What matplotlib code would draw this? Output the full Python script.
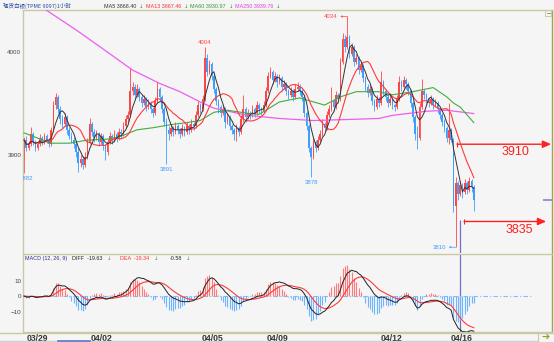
import numpy as np
import pandas as pd
import matplotlib
matplotlib.use("Agg")
import matplotlib.pyplot as plt
from matplotlib.patches import Rectangle
from matplotlib.lines import Line2D

plt.rcParams['font.family'] = ['Liberation Sans', 'Noto Sans CJK SC', 'DejaVu Sans']

# 现货白银 1小时K线 (开 / 高 / 低 / 收)
opens = [
    3896, 3914, 3906, 3910, 3920, 3912, 3906, 3910, 3916, 3912,
    3918, 3914, 3910, 3924, 3948, 3956, 3944, 3934, 3930, 3936,
    3924, 3918, 3914, 3910, 3902, 3892, 3896, 3890, 3898, 3912,
    3930, 3922, 3916, 3920, 3912, 3918, 3908, 3902, 3912, 3918,
    3914, 3920, 3916, 3922, 3920, 3928, 3934, 3938, 3962, 3966,
    3958, 3964, 3956, 3950, 3954, 3946, 3950, 3944, 3940, 3952,
    3964, 3956, 3944, 3932, 3924, 3920, 3926, 3922, 3928, 3924,
    3920, 3926, 3922, 3928, 3924, 3930, 3928, 3938, 3948, 3944,
    3954, 3994, 3980, 3988, 3976, 3964, 3952, 3946, 3940, 3944,
    3932, 3936, 3928, 3924, 3920, 3926, 3922, 3934, 3944, 3936,
    3940, 3938, 3944, 3940, 3948, 3944, 3942, 3948, 3962, 3976,
    3980, 3972, 3976, 3970, 3974, 3966, 3968, 3962, 3958, 3962,
    3956, 3964, 3966, 3962, 3956, 3940, 3928, 3906, 3898, 3912,
    3906, 3914, 3920, 3930, 3926, 3938, 3944, 3952, 3946, 3958,
    3954, 3990, 4012, 4004, 4014, 3998, 4004, 3990, 3994, 3982,
    3986, 3974, 3966, 3960, 3964, 3952, 3946, 3954, 3950, 3970,
    3962, 3956, 3950, 3954, 3948, 3946, 3954, 3970, 3966, 3972,
    3968, 3962, 3950, 3936, 3920, 3916, 3946, 3962, 3958, 3954,
    3950, 3954, 3948, 3950, 3944, 3938, 3932, 3926, 3916, 3924,
    3914, 3850, 3872, 3862, 3870, 3864, 3872, 3866, 3874, 3868,
]
highs = [
    3917, 3918, 3913, 3927, 3922, 3914, 3913, 3920, 3918, 3921,
    3920, 3916, 3927, 3952, 3960, 3958, 3947, 3938, 3940, 3938,
    3927, 3922, 3917, 3913, 3906, 3900, 3899, 3902, 3916, 3935,
    3932, 3925, 3924, 3922, 3921, 3920, 3910, 3915, 3922, 3920,
    3924, 3922, 3926, 3925, 3932, 3938, 3942, 3984, 3970, 3968,
    3968, 3966, 3958, 3958, 3956, 3954, 3952, 3946, 3956, 3970,
    3966, 3958, 3946, 3935, 3928, 3930, 3928, 3932, 3930, 3926,
    3930, 3928, 3932, 3930, 3934, 3932, 3942, 3952, 3950, 3958,
    4004, 3998, 3992, 3990, 3978, 3966, 3954, 3948, 3948, 3946,
    3940, 3938, 3930, 3926, 3930, 3928, 3938, 3958, 3946, 3944,
    3942, 3948, 3946, 3952, 3950, 3946, 3952, 3966, 3980, 3985,
    3982, 3980, 3978, 3978, 3976, 3972, 3970, 3964, 3966, 3964,
    3968, 3970, 3968, 3964, 3958, 3942, 3930, 3908, 3916, 3914,
    3918, 3924, 3934, 3932, 3942, 3948, 3966, 3954, 3962, 3960,
    3994, 4018, 4016, 4034, 4016, 4008, 4006, 3998, 3996, 3990,
    3988, 3976, 3968, 3968, 3966, 3954, 3958, 3956, 3981, 3972,
    3964, 3958, 3958, 3956, 3950, 3958, 3976, 3972, 3976, 3974,
    3970, 3964, 3952, 3938, 3928, 3950, 3973, 3964, 3960, 3956,
    3958, 3956, 3954, 3952, 3946, 3940, 3934, 3928, 3950, 3926,
    3916, 3878, 3874, 3874, 3872, 3876, 3874, 3878, 3876, 3870,
]
lows = [
    3882, 3903, 3904, 3908, 3909, 3903, 3904, 3908, 3909, 3910,
    3911, 3907, 3908, 3922, 3944, 3940, 3930, 3926, 3928, 3920,
    3915, 3911, 3906, 3898, 3883, 3888, 3886, 3888, 3896, 3910,
    3918, 3912, 3914, 3908, 3910, 3904, 3895, 3900, 3910, 3910,
    3912, 3912, 3914, 3916, 3918, 3926, 3932, 3936, 3958, 3954,
    3956, 3952, 3946, 3948, 3942, 3944, 3940, 3936, 3938, 3950,
    3952, 3940, 3928, 3891, 3914, 3918, 3918, 3920, 3920, 3916,
    3918, 3918, 3920, 3920, 3922, 3924, 3926, 3936, 3940, 3942,
    3952, 3976, 3978, 3972, 3960, 3948, 3940, 3936, 3938, 3926,
    3930, 3924, 3920, 3914, 3913, 3918, 3920, 3932, 3932, 3934,
    3934, 3936, 3936, 3938, 3940, 3938, 3940, 3946, 3960, 3974,
    3968, 3970, 3966, 3968, 3962, 3964, 3958, 3954, 3956, 3952,
    3954, 3962, 3958, 3952, 3936, 3924, 3902, 3878, 3896, 3902,
    3904, 3912, 3918, 3922, 3924, 3936, 3942, 3942, 3944, 3950,
    3952, 3988, 4000, 4002, 3994, 3996, 3986, 3988, 3978, 3980,
    3970, 3962, 3956, 3958, 3948, 3942, 3944, 3946, 3948, 3958,
    3952, 3946, 3948, 3944, 3942, 3944, 3952, 3962, 3964, 3964,
    3958, 3946, 3932, 3914, 3905, 3914, 3944, 3954, 3950, 3946,
    3948, 3944, 3946, 3940, 3934, 3928, 3922, 3912, 3910, 3912,
    3844, 3810, 3856, 3860, 3858, 3862, 3862, 3864, 3864, 3845,
]
closes = [
    3914, 3906, 3910, 3920, 3912, 3906, 3910, 3916, 3912, 3918,
    3914, 3910, 3924, 3948, 3956, 3944, 3934, 3930, 3936, 3924,
    3918, 3914, 3910, 3902, 3892, 3896, 3890, 3898, 3912, 3930,
    3922, 3916, 3920, 3912, 3918, 3908, 3902, 3912, 3918, 3914,
    3920, 3916, 3922, 3920, 3928, 3934, 3938, 3962, 3966, 3958,
    3964, 3956, 3950, 3954, 3946, 3950, 3944, 3940, 3952, 3964,
    3956, 3944, 3932, 3924, 3920, 3926, 3922, 3928, 3924, 3920,
    3926, 3922, 3928, 3924, 3930, 3928, 3938, 3948, 3944, 3954,
    3994, 3980, 3988, 3976, 3964, 3952, 3946, 3940, 3944, 3932,
    3936, 3928, 3924, 3920, 3926, 3922, 3934, 3944, 3936, 3940,
    3938, 3944, 3940, 3948, 3944, 3942, 3948, 3962, 3976, 3980,
    3972, 3976, 3970, 3974, 3966, 3968, 3962, 3958, 3962, 3956,
    3964, 3966, 3962, 3956, 3940, 3928, 3906, 3898, 3912, 3906,
    3914, 3920, 3930, 3926, 3938, 3944, 3952, 3946, 3958, 3954,
    3990, 4012, 4004, 4014, 3998, 4004, 3990, 3994, 3982, 3986,
    3974, 3966, 3960, 3964, 3952, 3946, 3954, 3950, 3970, 3962,
    3956, 3950, 3954, 3948, 3946, 3954, 3970, 3966, 3972, 3968,
    3962, 3950, 3936, 3920, 3916, 3946, 3962, 3958, 3954, 3950,
    3954, 3948, 3950, 3944, 3938, 3932, 3926, 3916, 3924, 3914,
    3850, 3872, 3862, 3870, 3864, 3872, 3866, 3874, 3868, 3856,
]

# MA60 / MA250 depend on bars before this window, so they are kept as sampled points
ma60_idx = [0, 12, 20, 28, 37, 42, 50, 57, 65, 72, 78, 84, 90, 99, 104,
            113, 122, 125, 133, 140, 147, 157, 163, 172, 181, 187, 190, 193, 199]
ma60_val = [3921, 3911, 3911, 3914, 3915, 3917, 3924, 3926, 3929, 3931, 3933, 3941,
            3943, 3940, 3939, 3951, 3955, 3953, 3948, 3956, 3961, 3961, 3958, 3961,
            3965, 3956, 3950, 3946, 3930.97]
ma250_idx = [0, 10, 23, 34, 48, 60, 69, 78, 84, 99, 113, 128, 143, 157, 163, 178, 187, 199]
ma250_val = [4055, 4040, 4021, 4004, 3982, 3969, 3961, 3951, 3945, 3938, 3935, 3933,
             3934, 3935, 3938, 3942, 3943, 3939.76]

date_pos = [5.75, 34.5, 83.2, 112, 162.8, 193.8]
date_labels = ['03/29', '04/02', '04/05', '04/09', '04/12', '04/16']

# marked extremes: (bar index, price, side)
marks = [(0, 3882, 'low'), (80, 4004, 'high'), (63, 3891, 'low'), (127, 3878, 'low')]
target_up = 3910
target_down = 3835
cursor_bar = 193

RED = '#ff4545'
BLUE = '#3d9dff'
KHAKI = '#c9c9a3'
OLIVE = '#a3a34a'
BG = '#f5f5f5'
W, H = 554, 342


def fx(x):
    return x / W


def fy(y):
    return 1 - y / H


o = np.array(opens, float)
h = np.array(highs, float)
l = np.array(lows, float)
c = np.array(closes, float)
idx = np.arange(len(c))

cs = pd.Series(c)
ma5 = cs.rolling(5, min_periods=1).mean()
ma13 = cs.rolling(13, min_periods=1).mean()
ema12 = cs.ewm(span=12, adjust=False).mean()
ema26 = cs.ewm(span=26, adjust=False).mean()
diff = ema12 - ema26
dea = diff.ewm(span=9, adjust=False).mean()
hist = 2 * (diff - dea)

fig = plt.figure(figsize=(W / 100, H / 100), dpi=100, facecolor=BG)
ax = fig.add_axes([fx(23), fy(253), fx(552) - fx(23), fy(10) - fy(253)])
ax2 = fig.add_axes([fx(23), fy(332), fx(552) - fx(23), fy(254) - fy(332)])

xmin, xmax = -0.45, 233.6
ax.set_xlim(xmin, xmax)
ax2.set_xlim(xmin, xmax)
ax.set_ylim(3804.4, 4040.3)
ax2.set_ylim(-23.2, 27.1)

for a in (ax, ax2):
    a.set_facecolor(BG)
    for s in a.spines.values():
        s.set_color(KHAKI)
        s.set_linewidth(1.0)
    a.spines['right'].set_color(OLIVE)
ax.spines['bottom'].set_visible(False)

# candles
up = c >= o
col = np.where(up, RED, BLUE)
ax.vlines(idx, l, h, colors=col, linewidth=0.6, zorder=2)
ax.bar(idx, np.maximum(np.abs(c - o), 0.8), bottom=np.minimum(o, c), width=0.7,
       color=col, linewidth=0, zorder=2)

# moving averages
ax.plot(ma250_idx, ma250_val, color='#ef5cef', lw=0.9, zorder=3)
ax.plot(ma60_idx, ma60_val, color='#3fae3f', lw=0.8, zorder=3)
ax.plot(idx, ma13, color='#ff3a3a', lw=0.8, zorder=4)
ax.plot(idx, ma5, color='#333333', lw=0.7, zorder=4)

# extreme labels
for i, p, side in marks:
    colr = RED if side == 'high' else BLUE
    dy = 2 if side == 'high' else -2
    ax.annotate(str(p), xy=(i, p), xytext=(1.5 if i == 0 else 0, dy), textcoords='offset points',
                ha='center', va='bottom' if side == 'high' else 'top',
                fontsize=4.3, color=colr, annotation_clip=False, clip_on=True)

ax.annotate('4034', xy=(143, 4034), xytext=(-7, 0), textcoords='offset points',
            ha='right', va='center', fontsize=4.3, color=RED,
            arrowprops=dict(arrowstyle='<-,head_length=0.25,head_width=0.12',
                            color=RED, lw=0.5, shrinkA=0, shrinkB=0))
ax.annotate('3810', xy=(191, 3810), xytext=(-7, 0), textcoords='offset points',
            ha='right', va='center', fontsize=4.3, color=BLUE,
            arrowprops=dict(arrowstyle='<-,head_length=0.25,head_width=0.12',
                            color=BLUE, lw=0.5, shrinkA=0, shrinkB=0))

# target arrows
ax.annotate('', xy=(233.2, target_up), xytext=(191.6, target_up),
            arrowprops=dict(arrowstyle='-|>,head_length=0.5,head_width=0.22',
                            color='#ff2020', lw=1.0, shrinkA=0, shrinkB=0))
ax.vlines(191.6, target_up - 2.5, target_up + 2.5, color='#ff2020', lw=0.8)
ax.text(217.5, target_up - 2, str(target_up), ha='center', va='top', fontsize=9, color='#ff2020')

ax.annotate('', xy=(231.0, target_down), xytext=(194.7, target_down),
            arrowprops=dict(arrowstyle='-|>,head_length=0.5,head_width=0.22',
                            color='#ff2020', lw=1.0, shrinkA=0, shrinkB=0))
ax.vlines(194.7, target_down - 2.5, target_down + 2.5, color='#ff2020', lw=0.8)
ax.text(219.2, target_down - 2.5, str(target_down), ha='center', va='top', fontsize=9, color='#ff2020')

# cursor and last price marker
ax.vlines(cursor_bar, 3804.4, target_down + 1, color='#6f6fc8', lw=0.9, zorder=5)
ax2.axvline(cursor_bar, color='#6f6fc8', lw=0.9, zorder=1)
ax.hlines(c[-1], 229.5, xmax, color='#8c8cd8', lw=1.3)

ax.set_xticks([])
ax.set_yticks([3900, 4000])
ax.tick_params(axis='y', length=0, pad=1.2, labelsize=4.5, labelcolor='#444444')

# MACD
ax2.plot([xmin, 225.2], [0, 0], color='#7fbfff', lw=0.8, ls=(0, (4, 2, 1, 2)), zorder=1)
hcol = np.where(hist >= 0, '#ff7a7a', '#6fb4ff')
ax2.vlines(idx, 0, hist, colors=hcol, linewidth=0.8, zorder=2)
ax2.plot(idx, dea, color='#ff3a3a', lw=0.8, zorder=3)
ax2.plot(idx, diff, color='#222222', lw=0.7, zorder=4)
ax2.set_yticks([-10, 0, 10])
ax2.tick_params(axis='y', length=0, pad=1.2, labelsize=4.5, labelcolor='#444444')
ax2.set_xticks(date_pos, date_labels)
ax2.tick_params(axis='x', length=0, pad=1.6, labelsize=6.2, labelcolor='#333333')
for t in ax2.get_xticklabels():
    t.set_fontweight('bold')

# header rows
hf = 3.9
fig.text(fx(3), fy(6), '现货白银(TPME 9097)1小时', color='#2a4aa0', fontsize=4.0,
         va='center', family=['Noto Sans CJK SC', 'DejaVu Sans'])
header = [(104, 'MA5 3868.40', '#333333', 139), (146, 'MA13 3867.46', '#ff3030', 184),
          (190, 'MA60 3930.97', '#2f9a2f', 229), (235, 'MA250 3939.76', '#e040e0', 276)]
for x, s, colr, ax_ in header:
    fig.text(fx(x), fy(6), s, color=colr, fontsize=hf, va='center')
    fig.text(fx(ax_), fy(6), '↓', color='#2f9a2f', fontsize=hf, va='center',
             family=['DejaVu Sans'])

macd_head = [(25, 'MACD (12, 26, 9)', '#303090', None), (72, 'DIFF  -19.63', '#222222', 107),
             (120, 'DEA  -19.34', '#ff3030', 154), (170, '-0.58', '#222222', 186)]
for x, s, colr, ax_ in macd_head:
    fig.text(fx(x), fy(258.5), s, color=colr, fontsize=hf, va='center')
    if ax_ is not None:
        fig.text(fx(ax_), fy(258.5), '↓', color='#2f9a2f', fontsize=hf, va='center',
                 family=['DejaVu Sans'])

# frame pieces outside the axes
fig.add_artist(Line2D([0, 1], [fy(332.5), fy(332.5)], color=KHAKI, lw=1.0))
fig.add_artist(Line2D([0, fx(538)], [fy(340.5), fy(340.5)], color='#d0d0dc', lw=1.0))
fig.add_artist(Line2D([fx(58), fx(90)], [fy(340.5), fy(340.5)], color='#5a78c8', lw=1.2))
fig.add_artist(Line2D([fx(538), fx(538)], [fy(333), fy(342)], color=KHAKI, lw=0.8))
fig.add_artist(Rectangle((fx(545), fy(16)), fx(6), fy(10) - fy(16), fill=False,
                         edgecolor=KHAKI, lw=0.7))
fig.add_artist(Line2D([fx(546.5), fx(549.5)], [fy(13), fy(13)], color='#888866', lw=0.6))
fig.text(fx(541), fy(337.5), '➔', color='#9c9c20', fontsize=7, va='center',
         family=['DejaVu Sans'])

fig.savefig('out.png', dpi=100, facecolor=BG)
